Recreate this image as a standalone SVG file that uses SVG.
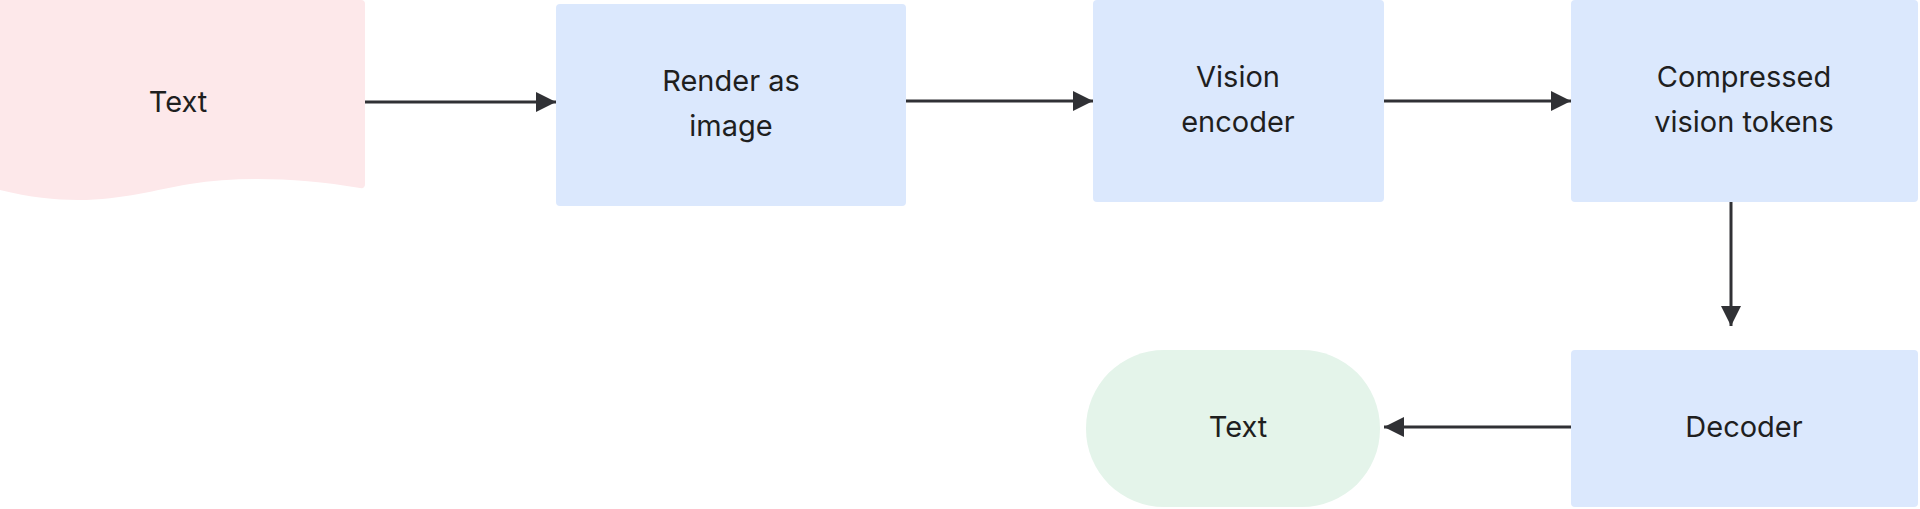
<svg xmlns="http://www.w3.org/2000/svg" width="1920" height="509" viewBox="0 0 1920 509">
<style>
.b{fill:#dbe8fd}
.t{font-family:Inter,"Open Sans",sans-serif;font-size:29px;fill:#1f1f1f;text-anchor:middle}
.c{stroke:#303135;stroke-width:3;fill:none;marker-end:url(#a)}
</style>
<defs><marker id="a" markerUnits="userSpaceOnUse" markerWidth="22" markerHeight="22" refX="20" refY="10" orient="auto"><path d="M0,0 L20,10 L0,20 Z" fill="#303135"/></marker></defs>
<rect width="1920" height="509" fill="#fff"/>
<g id="text-in"><path d="M0,0 H361 Q365,0 365,4 V184 Q365,189 360,188 C300,178 240,176 190,184 C140,192 90,212 0,190 Z" fill="#fde8ea"/><text class="t" x="178" y="112">Text</text></g>
<g id="render"><rect class="b" x="556" y="4" width="350" height="202" rx="4"/><text class="t" x="731" y="91">Render as</text><text class="t" x="731" y="136">image</text></g>
<g id="vision"><rect class="b" x="1093" y="0" width="291" height="202" rx="4"/><text class="t" x="1238" y="87">Vision</text><text class="t" x="1238" y="132">encoder</text></g>
<g id="compressed"><rect class="b" x="1571" y="0" width="347" height="202" rx="4"/><text class="t" x="1744" y="87">Compressed</text><text class="t" x="1744" y="132">vision tokens</text></g>
<g id="decoder"><rect class="b" x="1571" y="350" width="347" height="157" rx="4"/><text class="t" x="1744" y="437">Decoder</text></g>
<g id="text-out"><rect x="1086" y="350" width="294" height="157" rx="78" fill="#e4f4ea"/><text class="t" x="1238" y="437">Text</text></g>
<g id="connectors">
<line class="c" x1="365" y1="102" x2="556" y2="102"/>
<line class="c" x1="906" y1="101" x2="1093" y2="101"/>
<line class="c" x1="1384" y1="101" x2="1571" y2="101"/>
<line class="c" x1="1731" y1="202" x2="1731" y2="326"/>
<line class="c" x1="1571" y1="427" x2="1384" y2="427"/>
</g>
</svg>
